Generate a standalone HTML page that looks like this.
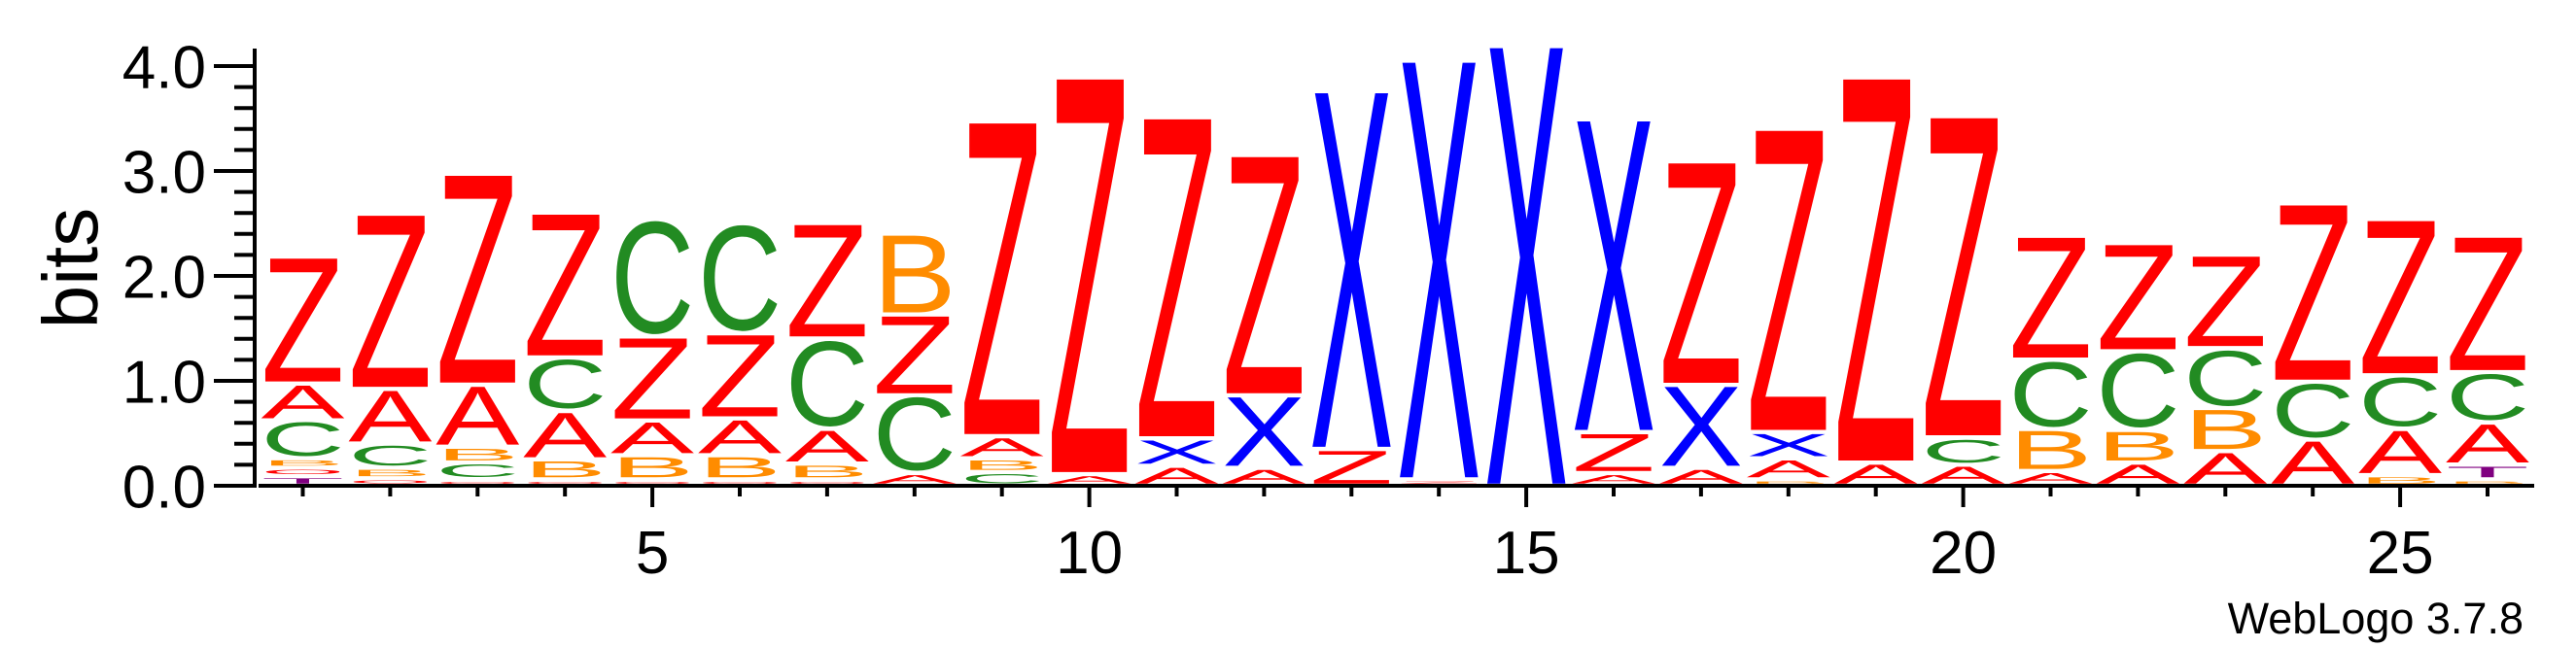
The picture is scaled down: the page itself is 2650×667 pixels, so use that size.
<!DOCTYPE html>
<html><head><meta charset="utf-8"><style>
html,body{margin:0;padding:0;background:#fff;}
svg{display:block;font-family:"Liberation Sans",Arial,sans-serif;}
</style></head><body>
<svg id="chart" width="2650" height="667" viewBox="0 0 2650 667" xmlns="http://www.w3.org/2000/svg">
<g id="marks"></g>
<g id="axes"></g>
<text transform="translate(100,276) rotate(-90)" text-anchor="middle" font-size="80">bits</text>
<text x="2596" y="652" text-anchor="end" font-size="45">WebLogo 3.7.8</text>
</svg>
<script>
const positions = [1,2,3,4,5,6,7,8,9,10,11,12,13,14,15,16,17,18,19,20,21,22,23,24,25,26];
// stacks bottom -> top: [letter, bits]
const stacks = [
 [["T",0.05],["O",0.04],["B",0.05],["C",0.32],["A",0.31],["Z",1.17]],
 [["O",0.03],["B",0.06],["C",0.19],["A",0.48],["Z",1.63]],
 [["O",0.02],["C",0.12],["B",0.11],["A",0.55],["Z",1.97]],
 [["O",0.02],["B",0.15],["A",0.42],["C",0.47],["Z",1.34]],
 [["O",0.02],["B",0.19],["A",0.29],["Z",0.76],["C",1.08]],
 [["O",0.02],["B",0.19],["A",0.31],["Z",0.77],["C",1.01]],
 [["O",0.02],["B",0.11],["A",0.29],["C",0.82],["Z",1.06]],
 [["A",0.08],["C",0.70],["Z",0.73],["B",0.73]],
 [["C",0.09],["B",0.09],["A",0.17],["Z",2.96]],
 [["A",0.07],["Z",3.74]],
 [["A",0.15],["X",0.22],["Z",3.02]],
 [["A",0.13],["X",0.65],["Z",2.25]],
 [["Z",0.31],["X",3.37]],
 [["Z",0.02],["X",3.95]],
 [["X",4.15]],
 [["A",0.08],["Z",0.35],["X",2.94]],
 [["A",0.13],["X",0.75],["Z",2.09]],
 [["B",0.02],["A",0.16],["X",0.21],["Z",2.85]],
 [["A",0.18],["Z",3.63]],
 [["A",0.16],["C",0.22],["Z",3.02]],
 [["A",0.10],["B",0.36],["C",0.62],["Z",1.14]],
 [["A",0.18],["B",0.27],["C",0.71],["Z",0.99]],
 [["A",0.29],["B",0.37],["C",0.53],["Z",0.85]],
 [["A",0.40],["C",0.51],["Z",1.66]],
 [["B",0.06],["A",0.40],["C",0.47],["Z",1.45]],
 [["B",0.02],["T",0.10],["A",0.36],["C",0.44],["Z",1.26]]
];
const yTicks = [0,1,2,3,4];
const yTickLabels = ["0.0","1.0","2.0","3.0","4.0"];
const xLabelPositions = [5,10,15,20,25];

const colors = {Z:"#ff0000",A:"#ff0000",O:"#ff0000",X:"#0000ff",C:"#228b22",B:"#ff8c00",T:"#800080"};
const capH = {Z:68.8,A:68.8,X:68.8,B:68.8,T:68.8,C:71,O:71};
const NS = "http://www.w3.org/2000/svg";
const y0 = 500, pxPerBit = 108, x1 = 311.5, step = 89.9;
const pad = 2.2;
function xScale(p){ return x1 + (p-1)*step; }
function yScale(b){ return y0 - b*pxPerBit; }

const marks = document.getElementById('marks');
stacks.forEach((stack, i) => {
  const cx = xScale(positions[i]);
  let acc = 0;
  let offset = 0;
  stack.forEach(([ch, bits]) => {
    offset += pad;
    const bottom = yScale(acc) - offset;
    acc += bits;
    offset += pad;
    const h = bits * pxPerBit;
    const ch_ = capH[ch];
    const sy = h / ch_;
    const over = (ch === 'C' || ch === 'O') ? (ch_ - 68.8) / 2 * sy : 0;
    const t = document.createElementNS(NS, 'text');
    
    
    t.setAttribute('x', 0); t.setAttribute('y', 0);
    t.setAttribute('font-size', 100);
    t.setAttribute('textLength', 86);
    t.setAttribute('lengthAdjust', 'spacingAndGlyphs');
    t.setAttribute('fill', colors[ch]);
    t.setAttribute('transform', 'translate(' + (cx - 43) + ',' + (bottom - over) + ') scale(1,' + sy + ')');
    t.textContent = ch;
    marks.appendChild(t);
  });
});

const axes = document.getElementById('axes');
function line(x1_, y1_, x2_, y2_, w, name){
  const l = document.createElementNS(NS, 'line');
  
  
  l.setAttribute('x1', x1_); l.setAttribute('y1', y1_);
  l.setAttribute('x2', x2_); l.setAttribute('y2', y2_);
  l.setAttribute('stroke', '#000'); l.setAttribute('stroke-width', w);
  axes.appendChild(l);
}
line(262, 50, 262, 502, 4, 'y-axis-line');
line(266, 500, 2607, 500, 4, 'x-axis-line');
for (let k = 0; k <= 20; k++) {
  const v = k * 0.2, y = yScale(v);
  if (k % 5 === 0) line(220, y, 262, y, 4, 'y-major-tick');
  else line(241, y, 262, y, 4, 'y-minor-tick');
}
yTicks.forEach((v, i) => {
  const t = document.createElementNS(NS, 'text');
  
  
  t.setAttribute('x', 212); t.setAttribute('y', yScale(v) + 22.5);
  t.setAttribute('text-anchor', 'end'); t.setAttribute('font-size', 62);
  t.textContent = yTickLabels[i];
  axes.appendChild(t);
});
positions.forEach(p => {
  const x = xScale(p);
  if (xLabelPositions.includes(p)) line(x, 500, x, 522, 4, 'x-major-tick');
  else line(x, 500, x, 511, 4, 'x-minor-tick');
});
xLabelPositions.forEach(p => {
  const t = document.createElementNS(NS, 'text');
  
  
  t.setAttribute('x', xScale(p)); t.setAttribute('y', 590);
  t.setAttribute('text-anchor', 'middle'); t.setAttribute('font-size', 62);
  t.textContent = String(p);
  axes.appendChild(t);
});
</script>
</body></html>
